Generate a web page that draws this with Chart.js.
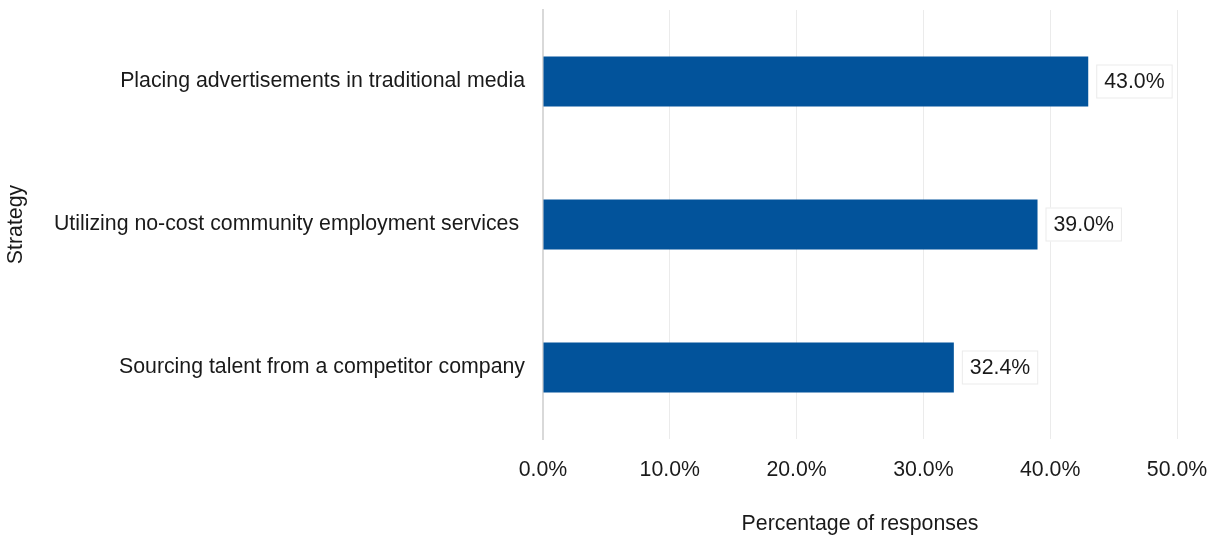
<!DOCTYPE html>
<html>
<head>
<meta charset="utf-8">
<script src="https://cdn.jsdelivr.net/npm/chart.js@4"></script>
<style>
  html, body { margin: 0; padding: 0; background: #fff; }
  #wrap { width: 1215px; height: 541px; }
</style>
</head>
<body>
<div id="wrap"><canvas id="chart"></canvas></div>
<script>
var strategies = [
    "Placing advertisements in traditional media",
    "Utilizing no-cost community employment services ",
    "Sourcing talent from a competitor company"
];
var shares = [43.0, 39.0, 32.4];
var xTicks = [0, 10, 20, 30, 40, 50];

var fontFamily = "'Liberation Sans', Arial, sans-serif";
var fontSize = 21.3;

// value labels in small white boxes just past the end of each bar
var boxLabels = {
    id: 'boxLabels',
    afterDatasetsDraw: function (chart) {
        var ctx = chart.ctx;
        var meta = chart.getDatasetMeta(0);
        ctx.save();
        ctx.font = fontSize + 'px ' + fontFamily;
        ctx.textBaseline = 'middle';
        meta.data.forEach(function (bar, i) {
            var text = shares[i].toFixed(1) + '%';
            var w = ctx.measureText(text).width + 16;
            var h = 34;
            var x = bar.x + 8;
            var y = bar.y - h / 2;
            ctx.fillStyle = '#ffffff';
            ctx.fillRect(x, y, w, h);
            ctx.strokeStyle = '#ebebeb';
            ctx.lineWidth = 1;
            ctx.strokeRect(x + 0.5, y + 0.5, w - 1, h - 1);
            ctx.fillStyle = '#1a1a1a';
            ctx.fillText(text, x + 8, bar.y + 1);
        });
        ctx.restore();
    }
};

new Chart(document.getElementById('chart'), {
    type: 'bar',
    data: {
        labels: strategies,
        datasets: [{
            data: shares,
            backgroundColor: '#02539b',
            barPercentage: 0.35,
            categoryPercentage: 1
        }]
    },
    options: {
        indexAxis: 'y',
        responsive: true,
        maintainAspectRatio: false,
        animation: false,
        layout: { padding: { top: 10, right: 38, left: 0, bottom: 0 } },
        plugins: {
            legend: { display: false },
            tooltip: { enabled: false }
        },
        scales: {
            x: {
                min: 0,
                max: 50,
                afterBuildTicks: function (scale) {
                    scale.ticks = xTicks.map(function (v) { return { value: v }; });
                },
                afterFit: function (scale) {
                    scale.height = 102;
                    scale.paddingLeft = 0;
                    scale.paddingRight = 0;
                },
                grid: { color: '#ebebeb', lineWidth: 1, drawTicks: false },
                border: { display: false },
                ticks: {
                    padding: 18,
                    color: '#1a1a1a',
                    font: { family: fontFamily, size: fontSize },
                    callback: function (v) { return v.toFixed(1) + '%'; }
                },
                title: {
                    display: true,
                    text: 'Percentage of responses',
                    color: '#1a1a1a',
                    font: { family: fontFamily, size: fontSize },
                    padding: { top: 20, bottom: 4 }
                }
            },
            y: {
                afterFit: function (scale) {
                    scale.width = 543;
                    scale.paddingTop = 0;
                    scale.paddingBottom = 0;
                },
                grid: { display: false, drawTicks: false },
                border: { display: true, color: '#d9d9d9', width: 2 },
                ticks: {
                    padding: 18,
                    color: '#1a1a1a',
                    font: { family: fontFamily, size: fontSize }
                },
                title: {
                    display: true,
                    text: 'Strategy',
                    color: '#1a1a1a',
                    font: { family: fontFamily, size: fontSize },
                    padding: { top: 3, bottom: 0 }
                }
            }
        }
    },
    plugins: [boxLabels]
});
</script>
</body>
</html>
